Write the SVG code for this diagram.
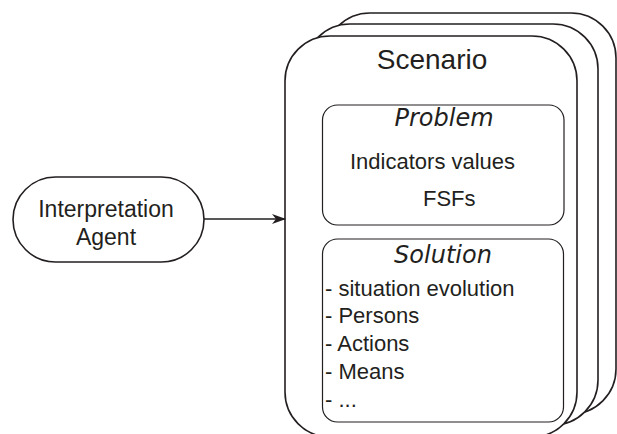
<svg xmlns="http://www.w3.org/2000/svg" width="617" height="434" viewBox="0 0 617 434">
  <defs>
    <style>
      .card { fill: #ffffff; stroke: #231f20; stroke-width: 1.6; }
      .box { fill: #ffffff; stroke: #231f20; stroke-width: 1.2; }
      .txt { font-family: "Liberation Sans", Arial, sans-serif; fill: #231f20; }
      .ital { font-family: "DejaVu Sans", Verdana, sans-serif; font-style: italic; fill: #231f20; }
      .link { fill: none; stroke: #231f20; stroke-width: 1.6; }
    </style>
    <marker id="arrow" viewBox="0 0 14 10" refX="13" refY="5" markerWidth="14" markerHeight="10" markerUnits="userSpaceOnUse" orient="auto">
      <path d="M0,0 L14,5 L0,10 L4,5 Z" fill="#231f20"/>
    </marker>
  </defs>
  <rect width="617" height="434" fill="#ffffff"/>

  <!-- stacked scenario cards, back to front -->
  <g id="scenario">
    <rect class="card" x="325" y="13" width="291" height="401" rx="45" ry="45"/>
    <rect class="card" x="305" y="24" width="293" height="401" rx="45" ry="45"/>
    <rect class="card" x="285" y="36" width="292" height="401" rx="45" ry="45"/>
    <text class="txt" x="432" y="69" font-size="28" text-anchor="middle">Scenario</text>
  </g>

  <g id="problem">
    <rect class="box" x="322.5" y="105" width="241.5" height="120" rx="15" ry="15"/>
    <text class="ital" x="444" y="126" font-size="24" text-anchor="middle">Problem</text>
    <text class="txt" x="350" y="169" font-size="22">Indicators values</text>
    <text class="txt" x="423" y="206" font-size="22">FSFs</text>
  </g>

  <g id="solution">
    <rect class="box" x="322.5" y="239" width="241" height="183" rx="15" ry="15"/>
    <text class="ital" x="443" y="263" font-size="24" text-anchor="middle">Solution</text>
    <text class="txt" x="325" y="296" font-size="22">- situation evolution</text>
    <text class="txt" x="325" y="323" font-size="22">- Persons</text>
    <text class="txt" x="325" y="351" font-size="22">- Actions</text>
    <text class="txt" x="325" y="379" font-size="22">- Means</text>
    <text class="txt" x="325" y="407" font-size="22">- ...</text>
  </g>

  <g id="agent">
    <rect class="box" x="13" y="177" width="191" height="85" rx="42.5" ry="42.5" style="stroke-width:1.6"/>
    <text class="txt" x="106" y="217" font-size="23" text-anchor="middle">Interpretation</text>
    <text class="txt" x="106" y="245" font-size="23" text-anchor="middle">Agent</text>
  </g>

  <g id="connectors">
    <line class="link" x1="204" y1="219" x2="285" y2="219" marker-end="url(#arrow)"/>
  </g>
</svg>
